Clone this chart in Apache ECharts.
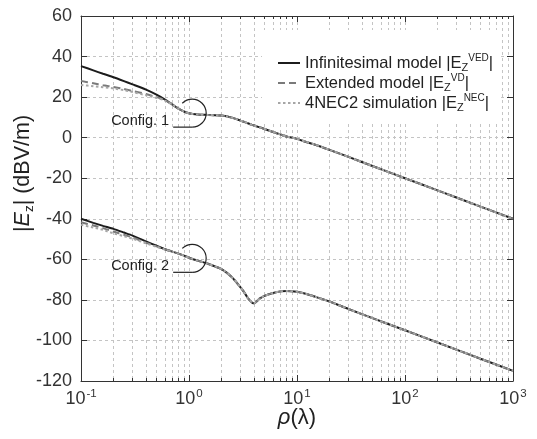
<!DOCTYPE html>
<html>
<head>
<meta charset="utf-8">
<script src="https://cdn.jsdelivr.net/npm/echarts@6/dist/echarts.min.js"></script>
<style>
html, body { margin: 0; padding: 0; background: #fff; }
#chart { width: 537px; height: 439px; }
</style>
</head>
<body>
<div id="chart"></div>
<script>
// distance in wavelengths
const rho = [0.1, 0.13, 0.16, 0.2, 0.25, 0.3, 0.4, 0.5, 0.6, 0.7, 0.8, 0.9, 1, 1.2, 1.5, 2, 2.5, 3, 3.2, 3.5, 3.7, 3.9, 4, 4.2, 4.5, 5, 6, 7, 8, 10, 12, 15, 20, 30, 50, 100, 200, 500, 1000];

// Config. 1
const c1Inf = [35.3, 33.2, 31.5, 29.8, 27.9, 26.3, 23.7, 21.2, 18.8, 16.4, 14.3, 12.9, 12.0, 11.4, 11.2, 10.9, 9.9, 8.4, 7.9, 7.1, 6.6, 6.2, 6.0, 5.6, 5.1, 4.3, 2.8, 1.6, 0.6, -0.6, -2.0, -3.6, -6.0, -9.5, -14.0, -20.0, -26.0, -34.0, -40.0];
const c1Ext = [28.0, 26.8, 25.8, 25.0, 24.0, 23.0, 21.5, 20.0, 18.5, 16.4, 14.3, 12.9, 12.0, 11.4, 11.2, 10.9, 9.9, 8.4, 7.9, 7.1, 6.6, 6.2, 6.0, 5.6, 5.1, 4.3, 2.8, 1.6, 0.6, -0.6, -2.0, -3.6, -6.0, -9.5, -14.0, -20.0, -26.0, -34.0, -40.0];
const c1Nec = [26.0, 25.4, 24.9, 24.3, 23.4, 22.5, 20.9, 19.6, 18.3, 16.3, 14.3, 12.9, 12.0, 11.4, 11.2, 10.9, 9.9, 8.4, 7.9, 7.1, 6.6, 6.2, 6.0, 5.6, 5.1, 4.3, 2.8, 1.6, 0.6, -0.6, -2.0, -3.6, -6.0, -9.5, -14.0, -20.0, -26.0, -34.0, -40.0];

// Config. 2
const c2Inf = [-40.0, -42.0, -43.5, -45.0, -46.8, -48.3, -51.2, -53.3, -55.0, -56.2, -57.2, -58.2, -59.2, -60.6, -62.2, -64.8, -68.8, -73.8, -75.8, -79.0, -80.6, -81.6, -81.7, -80.9, -79.4, -78.0, -76.6, -75.8, -75.6, -76.0, -77.0, -78.6, -80.8, -84.5, -89.0, -95.0, -101.0, -109.0, -115.0];
const c2Ext = [-41.7, -43.3, -44.6, -46.3, -47.9, -49.2, -51.8, -53.6, -55.1, -56.2, -57.2, -58.2, -59.2, -60.6, -62.2, -64.8, -68.8, -73.8, -75.8, -79.0, -80.6, -81.6, -81.7, -80.9, -79.4, -78.0, -76.6, -75.8, -75.6, -76.0, -77.0, -78.6, -80.8, -84.5, -89.0, -95.0, -101.0, -109.0, -115.0];
const c2Nec = [-43.0, -44.3, -45.5, -47.2, -48.6, -49.8, -52.1, -53.8, -55.2, -56.2, -57.2, -58.2, -59.2, -60.6, -62.2, -64.8, -68.8, -73.8, -75.8, -79.0, -80.6, -81.6, -81.7, -80.9, -79.4, -78.0, -76.6, -75.8, -75.6, -76.0, -77.0, -78.6, -80.8, -84.5, -89.0, -95.0, -101.0, -109.0, -115.0];

const seriesNames = ['Infinitesimal model |E_Z^VED|', 'Extended model |E_Z^VD|', '4NEC2 simulation |E_Z^NEC|'];
const legendRich = {
  'Infinitesimal model |E_Z^VED|': 'Infinitesimal model |E{sub|Z}{sup|VED}|',
  'Extended model |E_Z^VD|': 'Extended model |E{sub|Z}{sup|VD}|',
  '4NEC2 simulation |E_Z^NEC|': '4NEC2 simulation |E{sub|Z}{sup|NEC}|'
};

// annotation anchors
const annoRho = [1.07, 1.07];
const annoVal = [12.1, -59.5];
const annoText = ['Config. 1', 'Config. 2'];

const FONT = '"Liberation Sans", Arial, Helvetica, sans-serif';
const gridLine = { color: '#c4c4c4', width: 1, type: [3, 3] };

function pairs(ys) {
  return rho.map((r, i) => [r, ys[i]]);
}

function lineSeries(name, ys, style) {
  return {
    name: name,
    type: 'line',
    data: pairs(ys),
    symbol: 'none',
    smooth: 0.2,
    lineStyle: style,
    itemStyle: { color: style.color },
    silent: true,
    animation: false
  };
}

const solid = { color: '#1c1c1c', width: 2, type: 'solid' };
const dashed = { color: '#7a7a7a', width: 2, type: [7, 4] };
const dotted = { color: '#a6a6a6', width: 2, type: [2.5, 2.5] };

const frameLine = { show: true, onZero: false, lineStyle: { color: '#333', width: 1 } };

const chart = echarts.init(document.getElementById('chart'));
chart.setOption({
  backgroundColor: '#fff',
  animation: false,
  textStyle: { fontFamily: FONT },
  grid: { left: 81, right: 24, top: 16, bottom: 58, outerBoundsMode: 'none' },
  legend: {
    data: seriesNames,
    orient: 'vertical',
    left: 262,
    top: 30,
    padding: [23, 8, 8, 15],
    backgroundColor: '#fff',
    itemWidth: 22,
    itemHeight: 14,
    itemGap: 0,
    itemStyle: { opacity: 0 },
    formatter: name => legendRich[name],
    textStyle: {
      fontFamily: FONT,
      fontSize: 16.5,
      lineHeight: 16,
      color: '#222',
      rich: {
        sub: { fontSize: 11, lineHeight: 16, fontFamily: FONT, color: '#222', padding: [9, 0, 0, 0] },
        sup: { fontSize: 10, lineHeight: 16, fontFamily: FONT, color: '#222', padding: [0, 0, 9, 0] }
      }
    }
  },
  xAxis: [
    {
      type: 'log',
      logBase: 10,
      min: 0.1,
      max: 1000,
      name: '{i|ρ}(λ)',
      nameLocation: 'middle',
      nameGap: 26,
      nameMoveOverlap: false,
      nameTextStyle: {
        fontSize: 22,
        color: '#222',
        rich: { i: { fontSize: 22, fontStyle: 'italic', fontFamily: FONT, color: '#222' } }
      },
      axisLine: frameLine,
      axisTick: { show: true, inside: true, length: 6, lineStyle: { color: '#333' } },
      minorTick: { show: true, splitNumber: 9, length: 3, lineStyle: { color: '#333' } },
      splitLine: { show: true, lineStyle: gridLine },
      minorSplitLine: { show: true, lineStyle: gridLine },
      axisLabel: {
        margin: 7,
        formatter: v => '{b|10}{s|' + Math.round(Math.log10(v)) + '}',
        rich: {
          b: { fontSize: 18, color: '#333', fontFamily: FONT },
          s: { fontSize: 11.5, color: '#333', fontFamily: FONT, padding: [0, 0, 10, 1] }
        }
      }
    },
    {
      type: 'log',
      logBase: 10,
      min: 0.1,
      max: 1000,
      position: 'top',
      axisLine: frameLine,
      axisTick: { show: true, inside: true, length: 6, lineStyle: { color: '#333' } },
      minorTick: { show: true, splitNumber: 9, length: 3, lineStyle: { color: '#333' } },
      splitLine: { show: false },
      axisLabel: { show: false }
    }
  ],
  yAxis: [
    {
      type: 'value',
      min: -120,
      max: 60,
      interval: 20,
      name: '|{i|E}{sub|z}| (dBV/m)',
      nameLocation: 'middle',
      nameGap: 46,
      nameMoveOverlap: false,
      nameTextStyle: {
        fontSize: 21.5,
        lineHeight: 24,
        color: '#222',
        padding: [0, 0, 0, 50],
        rich: {
          i: { fontSize: 21.5, lineHeight: 24, fontStyle: 'italic', fontFamily: FONT, color: '#222' },
          sub: { fontSize: 13.5, lineHeight: 24, fontFamily: FONT, color: '#222', padding: [13, 0, 0, 0] }
        }
      },
      axisLine: frameLine,
      axisTick: { show: true, inside: true, length: 6, lineStyle: { color: '#333' } },
      splitLine: { show: true, lineStyle: gridLine },
      axisLabel: { fontSize: 18, color: '#333', margin: 9 }
    },
    {
      type: 'value',
      min: -120,
      max: 60,
      interval: 20,
      position: 'right',
      axisLine: frameLine,
      axisTick: { show: true, inside: true, length: 6, lineStyle: { color: '#333' } },
      splitLine: { show: false },
      axisLabel: { show: false }
    }
  ],
  series: [
    lineSeries(seriesNames[0], c1Inf, solid),
    lineSeries(seriesNames[1], c1Ext, dashed),
    lineSeries(seriesNames[2], c1Nec, dotted),
    lineSeries(seriesNames[0], c2Inf, solid),
    lineSeries(seriesNames[1], c2Ext, dashed),
    lineSeries(seriesNames[2], c2Nec, dotted)
  ]
});

// "Config." call-outs: loop around the curve with a leader to the label
const graphics = [];
annoText.forEach((t, i) => {
  const p = chart.convertToPixel({ xAxisIndex: 0, yAxisIndex: 0 }, [annoRho[i], annoVal[i]]);
  const r = 14;
  graphics.push({
    type: 'arc',
    shape: { cx: p[0], cy: p[1], r: r, startAngle: Math.PI / 2, endAngle: -3 * Math.PI / 4, clockwise: false },
    style: { stroke: '#222', lineWidth: 1.2, fill: null },
    z: 100
  });
  graphics.push({
    type: 'line',
    shape: { x1: p[0] - 19, y1: p[1] + r, x2: p[0], y2: p[1] + r },
    style: { stroke: '#222', lineWidth: 1.2 },
    z: 100
  });
  graphics.push({
    type: 'text',
    x: p[0] - 23,
    y: p[1] + 8,
    style: { text: t, font: '14.5px ' + FONT, fill: '#222', textAlign: 'right', textVerticalAlign: 'middle' },
    z: 100
  });
});
chart.setOption({ graphic: graphics });
</script>
</body>
</html>
